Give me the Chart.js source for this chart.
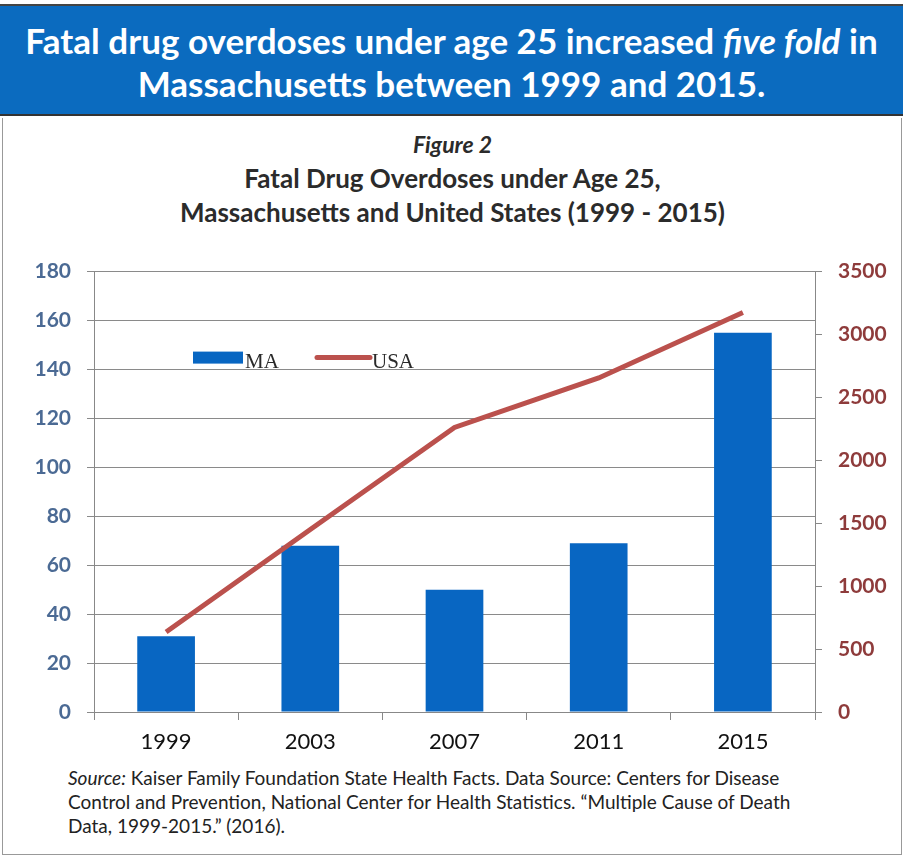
<!DOCTYPE html>
<html>
<head>
<meta charset="utf-8">
<script src="https://cdn.jsdelivr.net/npm/chart.js@4.4.1/dist/chart.umd.min.js"></script>
<style>
  html, body { margin: 0; padding: 0; background: #fff; }
  body { width: 905px; height: 859px; position: relative; overflow: hidden; font-family: Lato, "Open Sans", sans-serif; }
  .header {
    position: absolute; left: 0; top: 4px; width: 903px; height: 112px;
    background: #0b6bbf; border-top: 2px solid #444; border-bottom: 2px solid #333;
    color: #fff; font-weight: bold; font-size: 35px; text-align: center; line-height: 43px;
    padding-top: 13px; box-sizing: border-box;
  }
  .frame {
    position: absolute; left: 2px; top: 118px; width: 900px; height: 737px;
    border: 1px solid #999; border-top: none; box-sizing: border-box;
  }
  .titles { position: absolute; left: 0; top: 128px; width: 905px; text-align: center; color: #2b2b2b; font-weight: bold; }
  .titles .fig { font-style: italic; font-size: 23px; line-height: 33px; }
  .titles .t { font-size: 26px; line-height: 34px; }
  .chartbox { position: absolute; left: 0; top: 243px; width: 905px; height: 517px; }
  .source { position: absolute; left: 68px; top: 766px; font-size: 19px; line-height: 24px; color: #222; white-space: pre; }
</style>
</head>
<body>
<div class="header">Fatal drug overdoses under age 25 increased <i>five fold</i> in<br>Massachusetts between 1999 and 2015.</div>
<div class="frame"></div>
<div class="titles">
  <div class="fig">Figure 2</div>
  <div class="t">Fatal Drug Overdoses under Age 25,<br>Massachusetts and United States (1999 - 2015)</div>
</div>
<div class="chartbox"><canvas id="chart" width="905" height="517"></canvas></div>
<div class="source"><i>Source:</i> Kaiser Family Foundation State Health Facts. Data Source: Centers for Disease
Control and Prevention, National Center for Health Statistics. “Multiple Cause of Death
Data, 1999-2015.” (2016).</div>
<script>
const years = ['1999', '2003', '2007', '2011', '2015'];
const maDeaths = [31, 68, 50, 69, 155];
const usaDeaths = [636, 1450, 2262, 2655, 3175];
const leftTicks = [0, 20, 40, 60, 80, 100, 120, 140, 160, 180];
const rightTicks = [0, 500, 1000, 1500, 2000, 2500, 3000, 3500];

const barColor = '#0866c2';
const lineColor = '#bb514d';

// legend drawn inside the plot, like the original
const innerLegend = {
  id: 'innerLegend',
  afterDatasetsDraw(chart) {
    const ctx = chart.ctx;
    const a = chart.chartArea;
    const y = a.top + 86;
    ctx.save();
    ctx.font = '21px "Liberation Serif", serif';
    ctx.textBaseline = 'alphabetic';
    const ma = chart.data.datasets.find(d => d.label === 'MA');
    const usa = chart.data.datasets.find(d => d.label === 'USA');
    ctx.fillStyle = ma.backgroundColor;
    ctx.fillRect(a.left + 99, y - 6, 50, 12);
    ctx.fillStyle = '#2a2a2a';
    ctx.fillText(ma.label, a.left + 151, y + 10);
    ctx.strokeStyle = usa.borderColor;
    ctx.lineWidth = 5;
    ctx.lineCap = 'round';
    ctx.beginPath();
    ctx.moveTo(a.left + 223, y);
    ctx.lineTo(a.left + 276, y);
    ctx.stroke();
    ctx.fillText(usa.label, a.left + 278, y + 10);
    ctx.restore();
  }
};

new Chart(document.getElementById('chart'), {
  type: 'bar',
  data: {
    labels: years,
    datasets: [
      {
        label: 'MA',
        data: maDeaths,
        yAxisID: 'y',
        backgroundColor: barColor,
        categoryPercentage: 1,
        barPercentage: 0.4,
        order: 1
      },
      {
        type: 'line',
        label: 'USA',
        data: usaDeaths,
        yAxisID: 'y2',
        borderColor: lineColor,
        borderWidth: 5,
        pointRadius: 0,
        tension: 0,
        order: 0
      }
    ]
  },
  options: {
    responsive: false,
    animation: false,
    layout: { padding: { top: 15, left: 0, right: 0, bottom: 0 } },
    plugins: { legend: { display: false }, tooltip: { enabled: false } },
    scales: {
      x: {
        offset: true,
        grid: { offset: true, drawOnChartArea: false, color: '#888', tickLength: 8 },
        border: { color: '#888', width: 1 },
        ticks: { color: '#111', font: { family: 'Lato', size: 22 }, padding: 9 },
        afterFit(s) { s.height = 48; }
      },
      y: {
        position: 'left',
        min: 0, max: 180,
        afterBuildTicks(s) { s.ticks = leftTicks.map(v => ({ value: v })); },
        grid: { color: '#8a8a8a', lineWidth: 1, tickLength: 7 },
        border: { color: '#888', width: 1 },
        ticks: { color: '#4b6a94', font: { family: 'Lato', size: 21, weight: 'bold' }, padding: 16 },
        afterFit(s) { s.width = 94; }
      },
      y2: {
        position: 'right',
        min: 0, max: 3500,
        afterBuildTicks(s) { s.ticks = rightTicks.map(v => ({ value: v })); },
        grid: { drawOnChartArea: false, color: '#888', tickLength: 7 },
        border: { color: '#888', width: 1 },
        ticks: {
          color: '#8e3b3b', font: { family: 'Lato', size: 21, weight: 'bold' }, padding: 16,
          callback: v => String(v)
        },
        afterFit(s) { s.width = 90; }
      }
    }
  },
  plugins: [innerLegend]
});
</script>
</body>
</html>
